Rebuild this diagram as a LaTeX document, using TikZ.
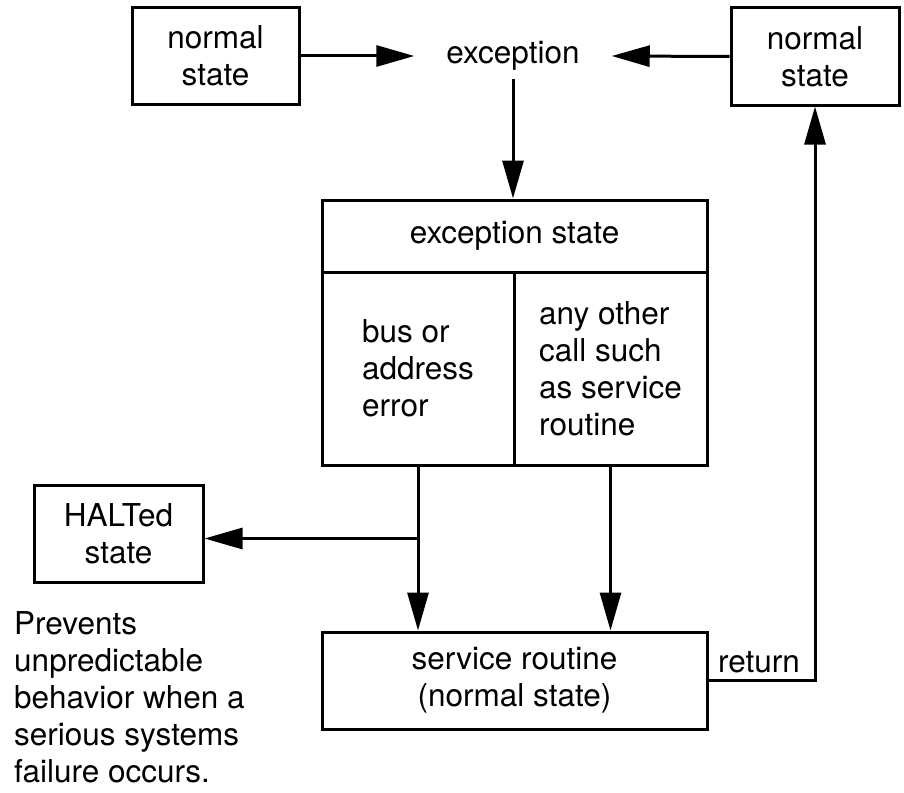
\documentclass[tikz,border=0pt]{standalone}
\usepackage{fontspec}
\setmainfont{TeX Gyre Heros}
\usetikzlibrary{arrows.meta,calc}
\begin{document}
\begin{tikzpicture}[x=1pt,y=-1pt,
  every node/.style={font=\fontsize{31.5}{37}\selectfont},
  box/.style={draw, line width=3pt, inner sep=0pt, align=center},
  arr/.style={line width=3pt, -{Triangle[length=38pt,width=21pt]}},
  conn/.style={line width=3pt}]
\useasboundingbox (0,0) rectangle (904,792);
\node[box, minimum width=167pt, minimum height=96pt] (nsL) at (215.5,56) {normal\\state};
\node[box, minimum width=168pt, minimum height=97pt] (nsR) at (815,56.5) {normal\\state};
\node[inner xsep=32pt, inner ysep=8pt] (exc) at (513,56) {exception};
\node[box, minimum width=385pt, minimum height=72pt] (esT) at (514.5,236) {exception state};
\node[box, minimum width=192pt, minimum height=193pt, align=left] (esL) at (418,368.5) {bus or\\address\\error};
\node[box, minimum width=193pt, minimum height=193pt, align=left] (esR) at (610.5,368.5) {any other\\call such\\as service\\routine};
\node[box, minimum width=169pt, minimum height=97pt] (halt) at (118.5,533.5) {HALTed\\state};
\node[box, minimum width=385pt, minimum height=97pt] (svc) at (514.5,680.5) {service routine\\(normal state)};
\node[anchor=west, inner sep=0pt, align=left] (note) at (14,697) {Prevents\\unpredictable\\behavior when a\\serious systems\\failure occurs.};
\node[anchor=base, inner sep=0pt] (ret) at (759,672) {return};
\coordinate (jn) at ($(esL.south)+(0,72)$);
\draw[arr] (nsL.east) -- (exc.west);
\draw[arr] (nsR.west) -- (exc.east);
\draw[arr] (exc.south) -- (exc.south |- esT.north);
\draw[arr] (esL.south) -- (esL.south |- svc.north);
\draw[arr] (esR.south) -- (esR.south |- svc.north);
\draw[arr] (jn) -- (jn -| halt.east);
\draw[arr] (svc.east) -| (nsR.south);
\end{tikzpicture}
\end{document}
